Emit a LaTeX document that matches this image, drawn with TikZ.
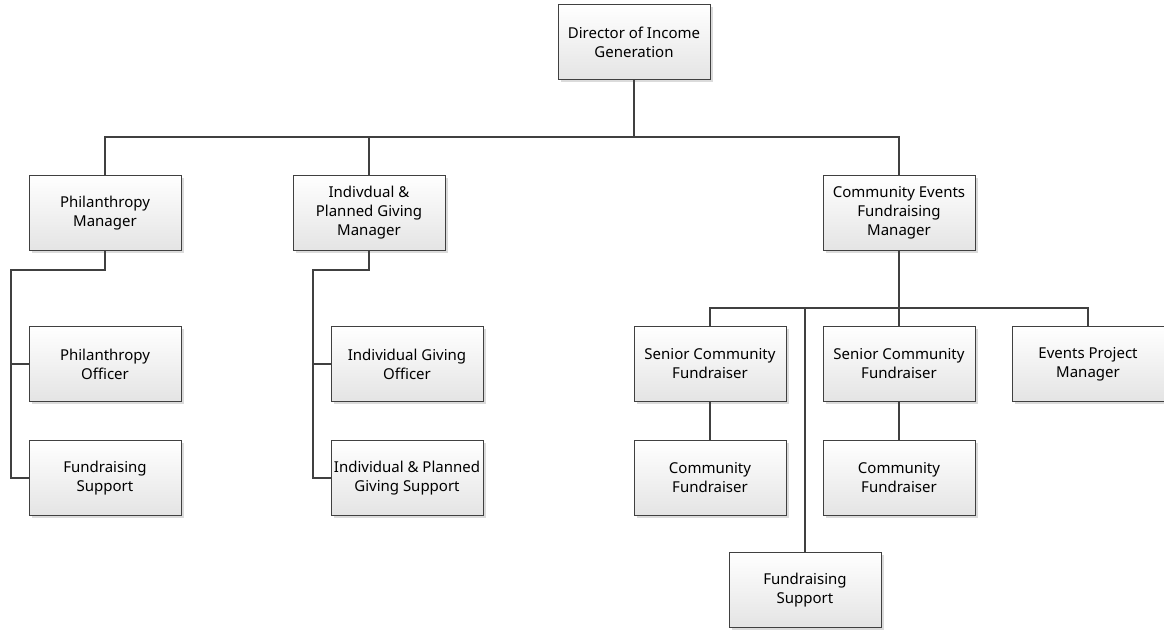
\documentclass[tikz,border=0pt]{standalone}
\usepackage{fontspec}
\setmainfont{Noto Sans}
\usetikzlibrary{shadows}

\definecolor{lineGray}{HTML}{404040}
\definecolor{boxBottom}{HTML}{E4E4E4}

\tikzset{
    role/.style={
        draw=lineGray, line width=0.8pt,
        top color=white, bottom color=boxBottom,
        minimum width=152pt, minimum height=75pt,
        inner sep=2pt, align=center,
        font=\fontsize{15}{19}\selectfont,
        drop shadow={shadow xshift=2.5pt, shadow yshift=-2.5pt,
            fill=black!14, opacity=1},
    },
    link/.style={draw=lineGray, line width=2.4pt},
}

\begin{document}
\begin{tikzpicture}[x=1pt, y=-1pt]

\useasboundingbox (0,0) rectangle (1164,629);

% Top level
\node[role] (director) at (634,42) {Director of Income\\Generation};

% Managers
\node[role] (philMgr) at (105,213) {Philanthropy\\Manager};
\node[role] (indivMgr) at (369,213) {Indivdual \&\\Planned Giving\\Manager};
\node[role] (commMgr) at (899,213) {Community Events\\Fundraising\\Manager};

% Philanthropy team
\node[role] (philOff) at (105,364) {Philanthropy\\Officer};
\node[role] (philSup) at (105,478) {Fundraising\\Support};

% Individual giving team
\node[role] (indivOff) at (407,364) {Individual Giving\\Officer};
\node[role] (indivSup) at (407,478) {Individual \& Planned\\Giving Support};

% Community events team
\node[role] (seniorA) at (710,364) {Senior Community\\Fundraiser};
\node[role] (seniorB) at (899,364) {Senior Community\\Fundraiser};
\node[role] (eventsMgr) at (1088,364) {Events Project\\Manager};
\node[role] (commFA) at (710,478) {Community\\Fundraiser};
\node[role] (commFB) at (899,478) {Community\\Fundraiser};
\node[role] (commSup) at (805,590) {Fundraising\\Support};

% Coordinates
\coordinate (topBus) at (634,137);
\coordinate (philBend) at (11,270);
\coordinate (indivBend) at (313,270);
\coordinate (commBus) at (899,308);
\coordinate (supTap) at (805,308);

% Director to managers
\draw[link] (director) -- (topBus);
\draw[link] (philMgr.north) |- (topBus) -| (commMgr.north);
\draw[link] (indivMgr.north) -- (indivMgr.north |- topBus);

% Philanthropy branch
\draw[link] (philMgr.south) |- (philBend) |- (philOff.west);
\draw[link] (philBend) |- (philSup.west);

% Individual giving branch
\draw[link] (indivMgr.south) |- (indivBend) |- (indivOff.west);
\draw[link] (indivBend) |- (indivSup.west);

% Community events branch
\draw[link] (commMgr.south) -- (seniorB.north);
\draw[link] (seniorA.north) |- (commBus) -| (eventsMgr.north);
\draw[link] (supTap) -- (commSup.north);
\draw[link] (seniorA) -- (commFA);
\draw[link] (seniorB) -- (commFB);

\end{tikzpicture}
\end{document}
